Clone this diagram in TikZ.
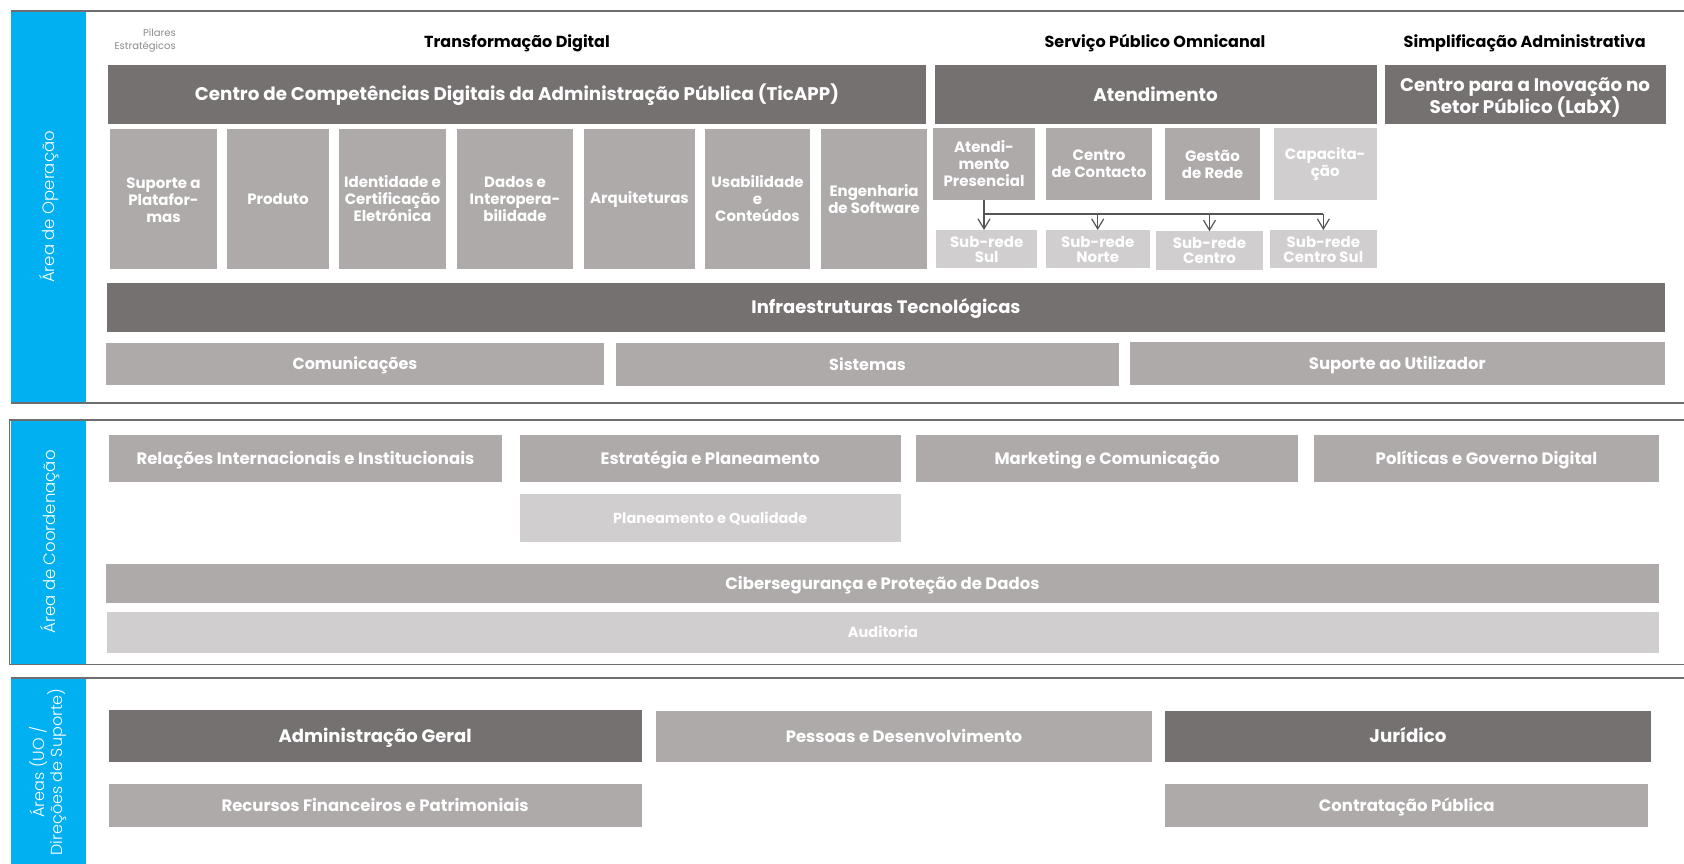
\documentclass[tikz,border=0pt]{standalone}
\usepackage{fontspec}
\setmainfont{Poppins}
\newfontfamily\lightf{Poppins Light}
\usetikzlibrary{arrows.meta}
\definecolor{dk}{HTML}{767171}
\definecolor{md}{HTML}{AEAAAA}
\definecolor{lt}{HTML}{D0CECE}
\definecolor{bl}{HTML}{00B0F0}
\definecolor{frame}{HTML}{6E6E6E}
\definecolor{conn}{HTML}{555555}
\tikzset{
  base/.style={rectangle, inner sep=0pt, outer sep=0pt, text=white, align=center,
    font=\bfseries\fontsize{15}{17}\selectfont},
  dkbox/.style={base, fill=dk},
  mdbox/.style={base, fill=md},
  ltbox/.style={base, fill=lt},
  bigtxt/.style={font=\bfseries\fontsize{18.3}{22}\selectfont},
  bigone/.style={font=\bfseries\fontsize{18.3}{22}\selectfont, text height=12.8pt, text depth=0pt},
  midtxt/.style={font=\bfseries\fontsize{16.5}{20}\selectfont, text height=11.5pt, text depth=0pt},
  smalltxt/.style={font=\bfseries\fontsize{14.5}{17}\selectfont, text height=10.1pt, text depth=0pt},
  subtxt/.style={font=\bfseries\fontsize{15}{15}\selectfont},
  pillar/.style={inner sep=0pt, text=black, font=\bfseries\fontsize{16}{18}\selectfont},
  arealabel/.style={rotate=90, inner sep=0pt, text=white, align=center,
    font=\lightf\fontsize{16.5}{18.5}\selectfont},
  frameline/.style={draw=frame, line width=1.8pt},
  busline/.style={draw=conn, line width=1.6pt},
  arr/.style={draw=conn, line width=1.2pt, -{Straight Barb[length=10pt,width=12pt]}},
}
% #1 extra text options, #2 name, #3 style, #4 x1, #5 y1, #6 x2, #7 y2, #8 text
\newcommand\obox[8][]{%
  \node[#3, minimum width={(#6)-(#4)}, minimum height={(#7)-(#5)}] (#2) at ({((#4)+(#6))/2},{((#5)+(#7))/2}) {};
  \node[#3, fill=none, #1] (#2-t) at (#2.center) {#8};}
\begin{document}
\begin{tikzpicture}[x=1pt,y=-1pt]
\useasboundingbox (0,0) rectangle (1684,864);
\fill[white] (0,0) rectangle (1684,864);
% ---------- Section 1: Area de Operacao ----------
\fill[bl] (10.7,10.7) rectangle (86,403.3);
\draw[frameline] (10.7,10.7) -- (1684,10.7);
\draw[frameline] (10.7,403.3) -- (1684,403.3);
\node[arealabel] (lab1) at (49,207) {Área de Operação};
\node[anchor=east, align=right, inner sep=0pt, text=black!45, font=\fontsize{10}{13}\selectfont] (pil) at (176,40.5) {Pilares\\Estratégicos};
\node[pillar] (p1) at (517,43) {Transformação Digital};
\node[pillar] (p2) at (1155,43) {Serviço Público Omnicanal};
\node[pillar] (p3) at (1524.7,43) {Simplificação Administrativa};
\obox{tic}{dkbox,bigone}{108}{65}{926}{124}{Centro de Competências Digitais da Administração Pública (TicAPP)}
\obox{at}{dkbox,bigone}{934.6}{65}{1376.6}{124.5}{Atendimento}
\obox[yshift=-3pt]{labx}{dkbox,bigtxt}{1384.6}{65}{1665.7}{124}{Centro para a Inovação no\\Setor Público (LabX)}
\obox[yshift=-1pt]{s1}{mdbox}{110}{129}{217}{269}{Suporte a\\Platafor-\\mas}
\obox{s2}{mdbox}{227}{129}{329}{269}{Produto}
\obox{s3}{mdbox}{339}{129}{446}{269}{Identidade e\\Certificação\\Eletrónica}
\obox{s4}{mdbox}{457}{129}{573}{269}{Dados e\\Interopera-\\bilidade}
\obox{s5}{mdbox}{584.4}{129}{694.6}{269}{Arquiteturas}
\obox{s6}{mdbox}{705.4}{129}{809.6}{269}{Usabilidade\\e\\Conteúdos}
\obox{s7}{mdbox}{821.4}{129}{926.8}{269}{Engenharia\\de Software}
\obox{ap}{mdbox}{933}{128}{1035}{200}{Atendi-\\mento\\Presencial}
\obox{cc}{mdbox}{1045.7}{128}{1152.3}{200}{Centro\\de Contacto}
\obox{gr}{mdbox}{1165}{128}{1260}{200}{Gestão\\de Rede}
\obox{cap}{ltbox}{1273.7}{128}{1376.7}{200}{Capacita-\\ção}
\obox{srs}{ltbox,subtxt}{936}{230}{1037.3}{268.3}{Sub-rede\\Sul}
\obox{srn}{ltbox,subtxt}{1045.7}{230}{1149.7}{268.3}{Sub-rede\\Norte}
\obox{src}{ltbox,subtxt}{1156.3}{231.3}{1262.7}{270}{Sub-rede\\Centro}
\obox{srcs}{ltbox,subtxt}{1270}{230}{1376.7}{268.3}{Sub-rede\\Centro Sul}
\coordinate (bus) at (983,214);
\draw[busline] (ap.south |- bus) -- (srcs.north |- bus);
\draw[arr] (ap.south) -- (ap.south |- srs.north);
\draw[arr] (srn.north |- bus) -- (srn.north);
\draw[arr] (src.north |- bus) -- (src.north);
\draw[arr] (srcs.north |- bus) -- (srcs.north);
\obox{infra}{dkbox,midtxt,font=\bfseries\fontsize{18}{20}\selectfont, text height=12.6pt}{107}{282.7}{1665}{331.7}{Infraestruturas Tecnológicas}
\obox{com}{mdbox,midtxt,font=\bfseries\fontsize{16}{20}\selectfont}{106}{343}{604}{384.5}{Comunicações}
\obox{sis}{mdbox,midtxt,font=\bfseries\fontsize{16}{20}\selectfont}{616}{343}{1119}{385.5}{Sistemas}
\obox{sup}{mdbox,midtxt}{1129.6}{342}{1665}{385}{Suporte ao Utilizador}
% ---------- Section 2: Area de Coordenacao ----------
\fill[bl] (10.7,420) rectangle (86,664.5);
\draw[frameline] (9.3,420) -- (1684,420);
\draw[frameline] (9.3,664.5) -- (1684,664.5);
\draw[draw=frame, line width=1.2pt] (9.3,420) -- (9.3,664.5);
\node[arealabel] (lab2) at (50,542) {Área de Coordenação};
\obox{rel}{mdbox,midtxt}{108.5}{435}{502.4}{482.3}{Relações Internacionais e Institucionais}
\obox{est}{mdbox,midtxt}{519.6}{435}{900.8}{482.3}{Estratégia e Planeamento}
\obox{mkt}{mdbox,midtxt}{916.4}{435}{1298}{482.3}{Marketing e Comunicação}
\obox{pol}{mdbox,midtxt}{1314}{435}{1659}{482.3}{Políticas e Governo Digital}
\obox{plq}{ltbox,smalltxt}{519.6}{494.3}{900.8}{541.7}{Planeamento e Qualidade}
\obox{cib}{mdbox,midtxt}{106}{563.5}{1659}{603.3}{Cibersegurança e Proteção de Dados}
\obox{aud}{ltbox,smalltxt}{107}{611.7}{1659}{652.7}{Auditoria}
% ---------- Section 3: Areas de Suporte ----------
\fill[bl] (10.7,678.3) rectangle (86,864);
\draw[frameline] (10.7,678.3) -- (1684,678.3);
\node[arealabel, font=\lightf\fontsize{16}{18.5}\selectfont] (lab3) at (48,772) {Áreas (UO /\\Direções de Suporte)};
\obox{adm}{dkbox,bigone,font=\bfseries\fontsize{18}{22}\selectfont}{108.5}{709.5}{641.7}{762.3}{Administração Geral}
\obox{pes}{mdbox,midtxt}{656}{711}{1152}{762.3}{Pessoas e Desenvolvimento}
\obox{jur}{dkbox,bigone}{1165}{710.7}{1651}{762.3}{Jurídico}
\obox{rec}{mdbox,midtxt}{108.5}{784.3}{641.7}{826.7}{Recursos Financeiros e Patrimoniais}
\obox{ctr}{mdbox,midtxt}{1165}{784.3}{1648.4}{826.7}{Contratação Pública}
\end{tikzpicture}
\end{document}
